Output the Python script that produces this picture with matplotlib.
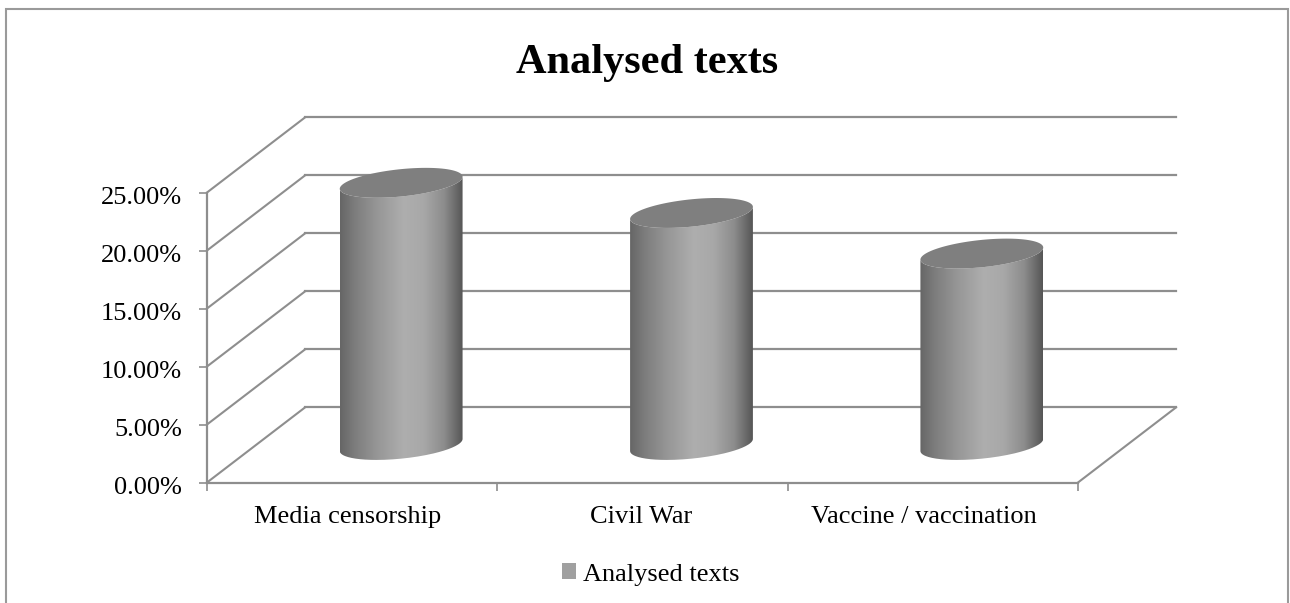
import numpy as np
import matplotlib
matplotlib.use('Agg')
import matplotlib.pyplot as plt
from matplotlib.patches import Patch, PathPatch, Rectangle
from matplotlib.path import Path
from matplotlib.colors import LinearSegmentedColormap
from matplotlib.ticker import FuncFormatter
from matplotlib.transforms import ScaledTranslation

plt.rcParams['font.family'] = ['Liberation Serif', 'DejaVu Serif']

categories = ['Media censorship', 'Civil War', 'Vaccine / vaccination']
values = [22.6, 20.0, 16.5]
value_ticks = [0, 5, 10, 15, 20, 25]
chart_title = 'Analysed texts'
series_name = 'Analysed texts'

GRID = '#8e8e8e'
# how far the back wall sits from the front plane, in axis units
DEPTH_X = 0.3375
DEPTH_Y = 6.47
BAR_HALF = 0.2115
TILT = 0.52
MINOR = 1.18

W, H = 1290, 603
fig = plt.figure(figsize=(W / 100, H / 100), dpi=100)
ax = fig.add_axes([207 / W, 1 - 482.5 / H, 871 / W, 290 / H])
ax.set_xlim(0, 3)
ax.set_ylim(0, 25)
ax.patch.set_alpha(0)

# chart frame, runs off the bottom of the page
fig.add_artist(Rectangle((6 / W, -0.05), 1282 / W, 1.05 - 8.5 / H, transform=fig.transFigure,
                         fill=False, ec='#9a9a9a', lw=1.5))

# back wall, side wall and floor
for v in value_ticks:
    ax.plot([0, DEPTH_X], [v, v + DEPTH_Y], color=GRID, lw=1.5, clip_on=False, zorder=1)
    ax.plot([DEPTH_X, 3 + DEPTH_X], [v + DEPTH_Y, v + DEPTH_Y], color=GRID, lw=1.6, clip_on=False, zorder=1)
ax.plot([3, 3 + DEPTH_X], [0, DEPTH_Y], color=GRID, lw=1.5, clip_on=False, zorder=1)

for s in ['top', 'right']:
    ax.spines[s].set_visible(False)
for s in ['left', 'bottom']:
    ax.spines[s].set_color(GRID)
    ax.spines[s].set_linewidth(1.6)

ax.set_yticks(value_ticks)
ax.yaxis.set_major_formatter(FuncFormatter(lambda v, p: '%.2f%%' % v))
ax.set_xticks([0, 1, 2, 3])
ax.set_xticklabels([])
ax.tick_params(axis='both', color=GRID, width=1.2, length=6, labelsize=19, labelcolor='black', pad=12)
# value labels sit a little below their ticks
for lab in ax.get_yticklabels():
    lab.set_transform(lab.get_transform() + ScaledTranslation(0, -2.5 / 100, fig.dpi_scale_trans))

label_x = [0.485, 1.494, 2.468]
for x, name in zip(label_x, categories):
    ax.text(x, -3.0, name, ha='center', va='center', fontsize=19, color='black')

# shading across the cylinder wall
shade = LinearSegmentedColormap.from_list('shade', [
    (0.00, '#666666'), (0.12, '#7d7d7d'), (0.30, '#969696'), (0.52, '#aeaeae'),
    (0.68, '#a8a8a8'), (0.85, '#8c8c8c'), (1.00, '#565656')])
grad = np.linspace(0, 1, 256).reshape(1, -1)


def ellipse(cx, cy, t):
    # sheared ellipse so the caps lean up to the right
    return cx + BAR_HALF * np.cos(t), cy + TILT * np.cos(t) + MINOR * np.sin(t)


t_all = np.linspace(0, 2 * np.pi, 181)
t_low = np.linspace(np.pi, 2 * np.pi, 91)

for i, v in enumerate(values):
    cx = i + 0.5 + DEPTH_X / 2
    y0 = DEPTH_Y / 2
    y1 = y0 + v
    # the wall: lower half of the base ellipse, then back along the top
    bx, by = ellipse(cx, y0, t_low)
    tx, ty = ellipse(cx, y1, t_low[::-1])
    wall = Path(np.column_stack([np.r_[bx, tx], np.r_[by, ty]]))
    im = ax.imshow(grad, extent=[cx - BAR_HALF, cx + BAR_HALF, y0 - 3, y1 + 3], cmap=shade, vmin=0, vmax=1,
                   aspect='auto', zorder=3)
    patch = PathPatch(wall, transform=ax.transData, fc='none', ec='none')
    ax.add_patch(patch)
    im.set_clip_path(patch)
    # tall bars rise past the top of the axes box
    im.set_clip_box(fig.bbox)
    # the cap
    cap_x, cap_y = ellipse(cx, y1, t_all)
    ax.fill(cap_x, cap_y, color='#7f7f7f', lw=0, zorder=4, clip_on=False)

ax.set_xlim(0, 3)
ax.set_ylim(0, 25)

fig.text(647 / W, 1 - 62.5 / H, chart_title, ha='center', va='center', fontsize=30.5, fontweight='bold', color='black')

fig.legend(handles=[Patch(fc='#a0a0a0', ec='none', label=series_name)], loc='center', frameon=False,
           bbox_to_anchor=(651 / W, 1 - 574.5 / H), fontsize=19, handlelength=0.53, handleheight=0.53,
           handletextpad=0.27, borderpad=0)

fig.savefig('out.png', dpi=100)
